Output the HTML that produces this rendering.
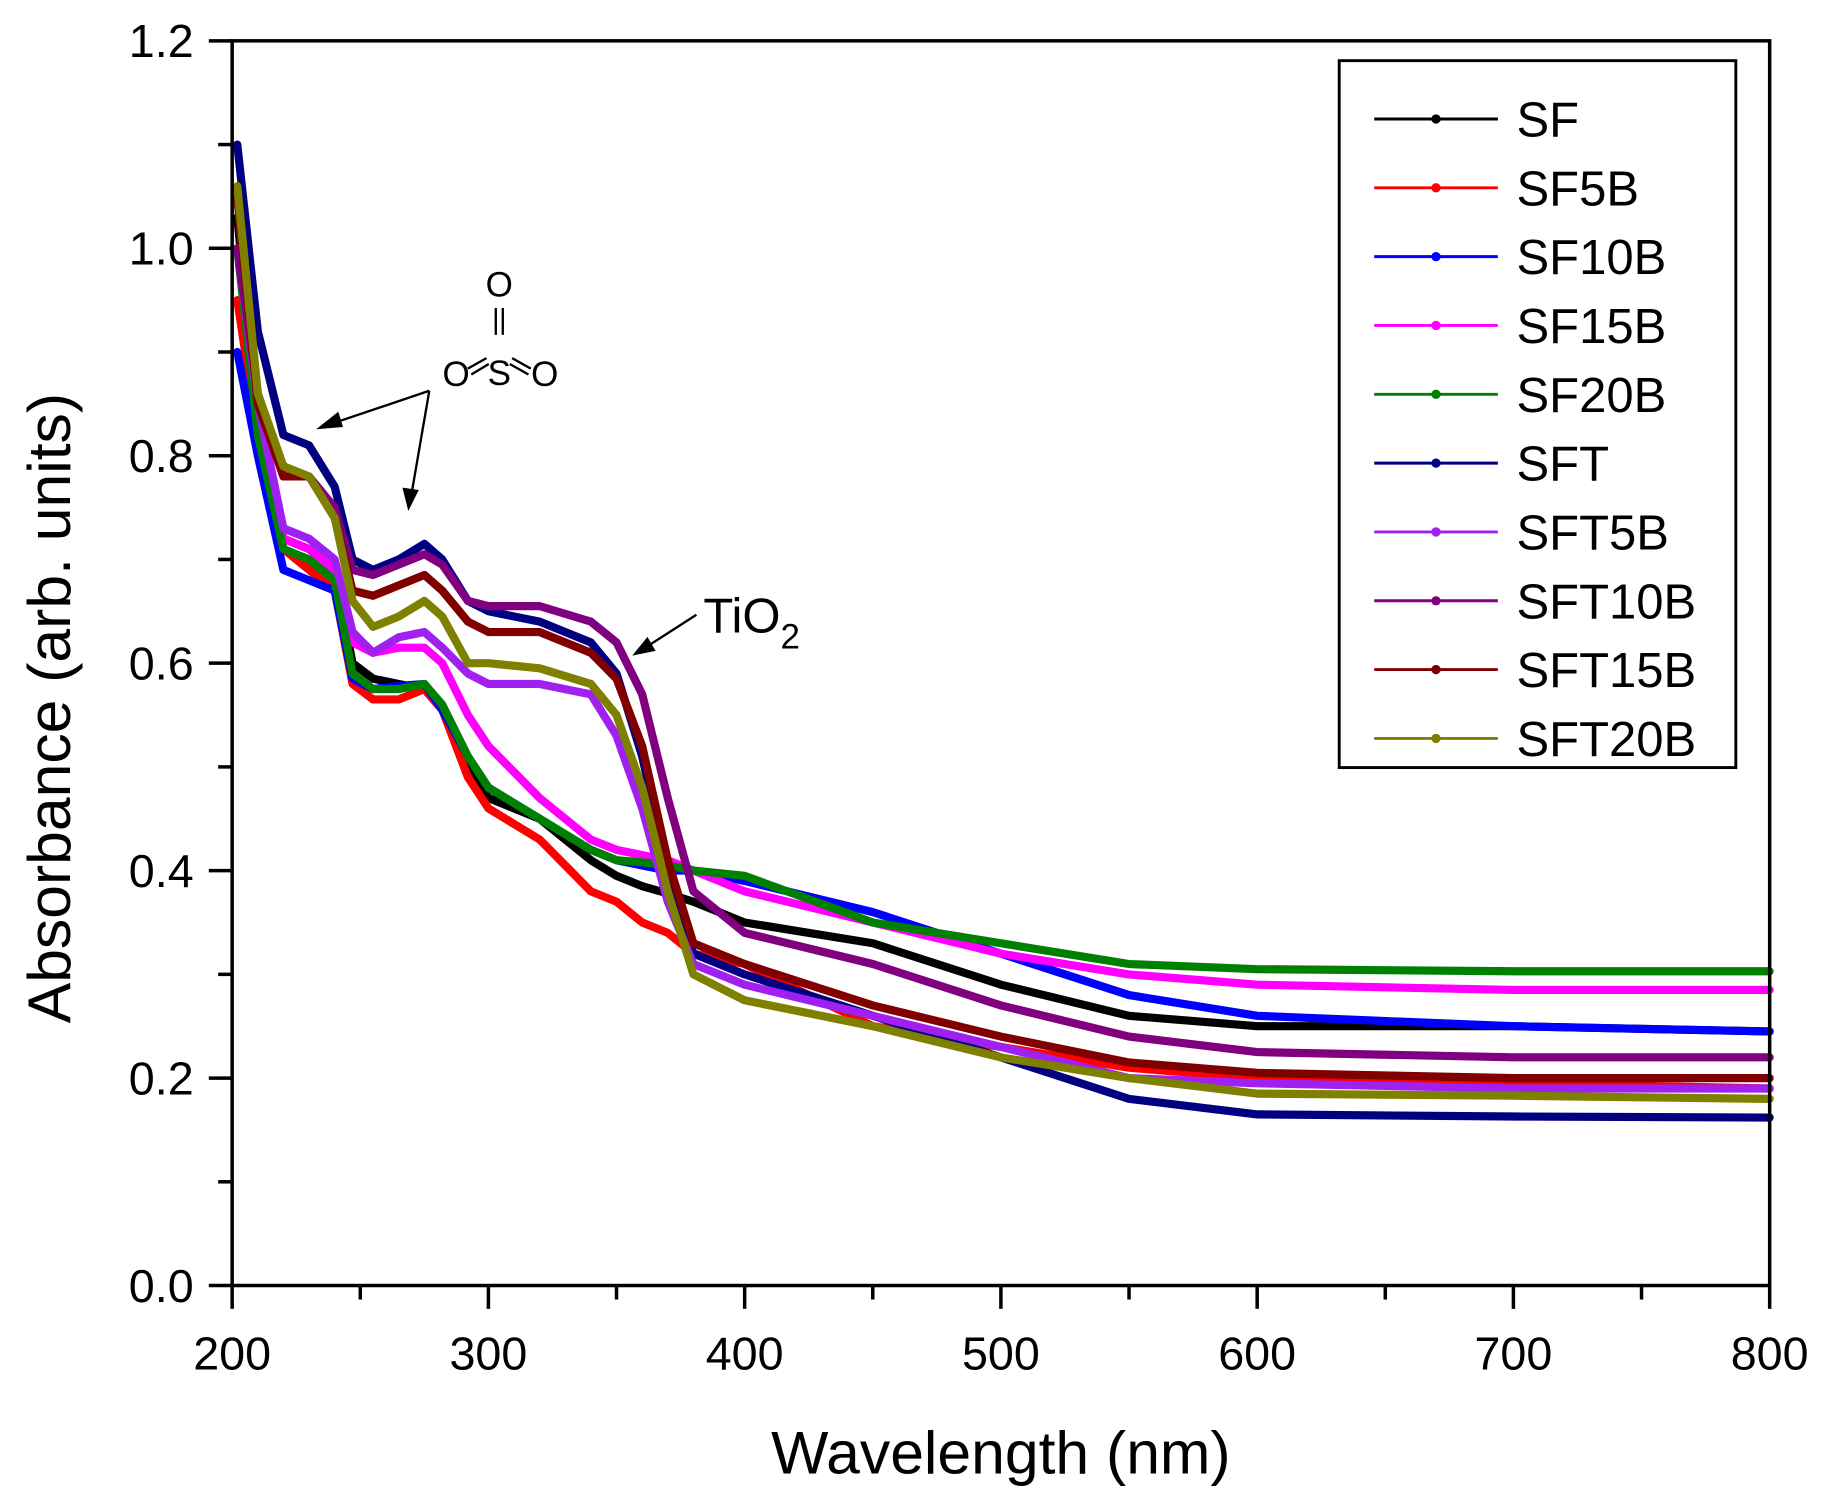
<!DOCTYPE html>
<html><head><meta charset="utf-8"><style>
html,body{margin:0;padding:0;background:#fff}
svg{display:block}
text{font-family:"Liberation Sans",Arial,sans-serif;fill:#000}
</style></head><body>
<svg id="chart" width="1828" height="1499" viewBox="0 0 1567 1285" xmlns="http://www.w3.org/2000/svg">
<g id="plot"></g>
<g id="axes"></g>
<g id="legend"></g>
<g>
 <text x="428" y="254" font-size="30" text-anchor="middle">O</text>
 <line x1="425" y1="264" x2="425" y2="287" stroke="#000" stroke-width="2"/>
 <line x1="431" y1="264" x2="431" y2="287" stroke="#000" stroke-width="2"/>
 <text x="428" y="330" font-size="30" text-anchor="middle">S</text>
 <text x="391" y="331" font-size="30" text-anchor="middle">O</text>
 <text x="467" y="331" font-size="30" text-anchor="middle">O</text>
 <line x1="401" y1="316" x2="417" y2="307" stroke="#000" stroke-width="2"/>
 <line x1="404" y1="321" x2="419" y2="312" stroke="#000" stroke-width="2"/>
 <line x1="439" y1="307" x2="455" y2="316" stroke="#000" stroke-width="2"/>
 <line x1="437" y1="312" x2="453" y2="321" stroke="#000" stroke-width="2"/>
 <line x1="368" y1="335" x2="285" y2="363" stroke="#000" stroke-width="2"/>
 <polygon points="271,368 290,353 294,366" fill="#000"/>
 <line x1="368" y1="335" x2="353" y2="422" stroke="#000" stroke-width="2"/>
 <polygon points="350,438 345,418 359,420" fill="#000"/>
</g>
<g>
 <text x="603" y="542" font-size="42">TiO<tspan font-size="30" dy="14">2</tspan></text>
 <line x1="597" y1="527" x2="555" y2="554" stroke="#000" stroke-width="2"/>
 <polygon points="542,562 555,546 562,558" fill="#000"/>
</g>
</svg>
<script>
const wavelengths = [202,210,220,230,240,247,255,265,275,282,292,300,320,340,350,360,370,380,400,450,500,550,600,700,800];
const seriesNames = ["SF","SF5B","SF10B","SF15B","SF20B","SFT","SFT5B","SFT10B","SFT15B","SFT20B"];
const seriesColors = ["#000000","#ff0000","#0000ff","#ff00ff","#008000","#000080","#a020f0","#800080","#800000","#808000"];
const sfValues     = [1.03,0.83,0.72,0.71,0.69,0.60,0.585,0.58,0.575,0.555,0.50,0.47,0.45,0.41,0.395,0.385,0.378,0.37,0.35,0.33,0.29,0.26,0.25,0.25,0.245];
const sf5bValues   = [0.95,0.82,0.71,0.69,0.67,0.58,0.565,0.565,0.575,0.555,0.49,0.46,0.43,0.38,0.37,0.35,0.34,0.32,0.31,0.25,0.23,0.21,0.20,0.195,0.19];
const sf10bValues  = [0.90,0.80,0.69,0.68,0.67,0.585,0.575,0.578,0.58,0.555,0.51,0.48,0.45,0.42,0.41,0.405,0.40,0.40,0.39,0.36,0.32,0.28,0.26,0.25,0.245];
const sf15bValues  = [1.05,0.84,0.72,0.71,0.69,0.62,0.61,0.615,0.615,0.60,0.55,0.52,0.47,0.43,0.42,0.415,0.41,0.40,0.38,0.35,0.32,0.30,0.29,0.285,0.285];
const sf20bValues  = [1.00,0.82,0.71,0.70,0.68,0.59,0.575,0.575,0.58,0.56,0.51,0.48,0.45,0.42,0.41,0.408,0.405,0.40,0.395,0.35,0.33,0.31,0.305,0.303,0.303];
const sftValues    = [1.10,0.92,0.82,0.81,0.77,0.70,0.69,0.70,0.715,0.70,0.66,0.65,0.64,0.62,0.59,0.51,0.40,0.32,0.30,0.26,0.22,0.18,0.165,0.163,0.162];
const sft5bValues  = [1.00,0.85,0.73,0.72,0.70,0.63,0.61,0.625,0.63,0.615,0.59,0.58,0.58,0.57,0.53,0.46,0.37,0.31,0.29,0.26,0.23,0.20,0.195,0.19,0.19];
const sft10bValues = [1.00,0.86,0.78,0.78,0.75,0.69,0.685,0.695,0.705,0.695,0.66,0.655,0.655,0.64,0.62,0.57,0.47,0.38,0.34,0.31,0.27,0.24,0.225,0.22,0.22];
const sft15bValues = [1.05,0.85,0.78,0.78,0.74,0.67,0.665,0.675,0.685,0.67,0.64,0.63,0.63,0.61,0.585,0.52,0.41,0.33,0.31,0.27,0.24,0.215,0.205,0.20,0.20];
const sft20bValues = [1.06,0.86,0.79,0.78,0.74,0.66,0.635,0.645,0.66,0.645,0.60,0.60,0.595,0.58,0.55,0.48,0.38,0.30,0.275,0.25,0.22,0.20,0.185,0.183,0.18];
const xTickLabels = [200,300,400,500,600,700,800];
const yTickLabels = ["0.0","0.2","0.4","0.6","0.8","1.0","1.2"];

const NS="http://www.w3.org/2000/svg";
const X0=199,X1=1517,Y0=1102,Y1=35;
const xs=w=>X0+(w-200)/600*(X1-X0);
const ys=v=>Y0-v/1.2*(Y0-Y1);
function mk(tag,attrs,parent){const e=document.createElementNS(NS,tag);for(const k in attrs)e.setAttribute(k,attrs[k]);parent.appendChild(e);return e;}
const plot=document.getElementById('plot'),axes=document.getElementById('axes'),legend=document.getElementById('legend');
const allValues=[sfValues,sf5bValues,sf10bValues,sf15bValues,sf20bValues,sftValues,sft5bValues,sft10bValues,sft15bValues,sft20bValues];
allValues.forEach((vals,i)=>{
  const pts=vals.map((v,j)=>xs(wavelengths[j]).toFixed(1)+','+ys(v).toFixed(1)).join(' ');
  const pl=mk('polyline',{points:pts,fill:'none',stroke:seriesColors[i],'stroke-width':7,'stroke-linejoin':'round','stroke-linecap':'round'},plot);
  
  
});
const fr=mk('rect',{x:X0,y:Y1,width:X1-X0,height:Y0-Y1,fill:'none',stroke:'#000','stroke-width':3},axes);


for(let v=0;v<=1.2001;v+=0.1){
  const major=Math.round(v*10)%2===0;
  mk('line',{x1:X0-(major?20:12),x2:X0,y1:ys(v),y2:ys(v),stroke:'#000','stroke-width':3},axes);
}
yTickLabels.forEach(l=>{
  const t=mk('text',{x:166,y:ys(parseFloat(l))+14,'font-size':40,'text-anchor':'end'},axes);
  t.textContent=l;
  
  
});
for(let w=200;w<=800;w+=50){
  const major=w%100===0;
  mk('line',{x1:xs(w),x2:xs(w),y1:Y0,y2:Y0+(major?20:12),stroke:'#000','stroke-width':3},axes);
}
xTickLabels.forEach(l=>{
  const t=mk('text',{x:xs(l),y:1174,'font-size':40,'text-anchor':'middle'},axes);
  t.textContent=l;
  
  
});
const xt=mk('text',{x:858,y:1263,'font-size':52,'text-anchor':'middle'},axes);
xt.textContent='Wavelength (nm)';


const yt=mk('text',{x:0,y:0,'font-size':52,'text-anchor':'middle',transform:'translate(60,607) rotate(-90)'},axes);
yt.textContent='Absorbance (arb. units)';


const lb=mk('rect',{x:1148,y:52,width:340,height:606,fill:'#fff',stroke:'#000','stroke-width':2.5},legend);


seriesNames.forEach((n,i)=>{
  const y=102+i*59;
  const g=mk('g',{},legend);
  
  
  mk('line',{x1:1178,x2:1284,y1:y,y2:y,stroke:seriesColors[i],'stroke-width':2.5},g);
  mk('circle',{cx:1231,cy:y,r:4,fill:seriesColors[i]},g);
  const t=mk('text',{x:1300,y:y+15,'font-size':42},g);
  t.textContent=n;
});
</script>
</body></html>
